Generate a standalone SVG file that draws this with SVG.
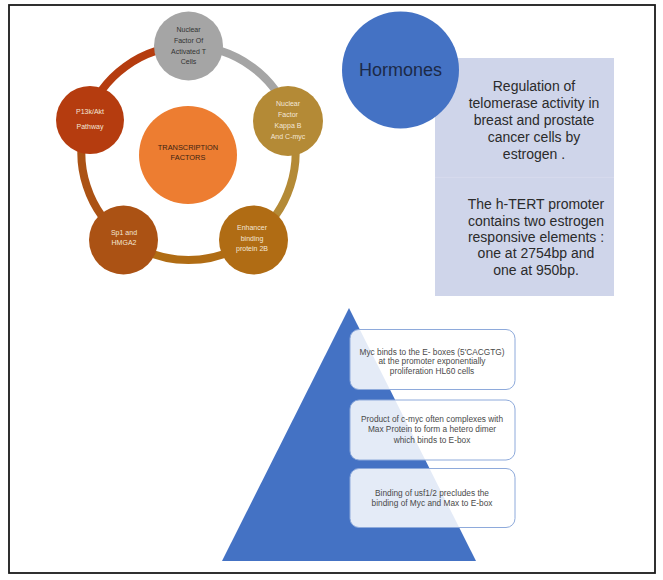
<svg xmlns="http://www.w3.org/2000/svg" width="663" height="580" viewBox="0 0 663 580">
<style>
.node text{font-family:"Liberation Sans",Arial,sans-serif;font-size:7px;text-anchor:middle}
.lt{fill:#f3e6d6}
.dk{fill:#333333}
.ring{fill:none;stroke-width:8}
.bx rect{fill:#ffffff;fill-opacity:0.86;stroke:#8eaadb;stroke-width:1}
.bx text{font-family:"Liberation Sans",Arial,sans-serif;font-size:8.3px;fill:#4a4a4a;text-anchor:middle}
.pt{font-family:"Liberation Sans",Arial,sans-serif;font-size:14px;fill:#2b2b2b;text-anchor:middle}
</style>
<rect x="0" y="0" width="663" height="580" fill="#ffffff"/>
<rect x="9" y="5" width="646" height="568" fill="none" stroke="#1a1a1a" stroke-width="1.8"/>

<g id="connectors">
<path class="ring" stroke="#a5a5a5" d="M188.5,46 A107,107 0 0 1 290.3,119.9"/>
<path class="ring" stroke="#b48a36" d="M290.3,119.9 A107,107 0 0 1 251.4,239.6"/>
<path class="ring" stroke="#b06c14" d="M251.4,239.6 A107,107 0 0 1 125.6,239.6"/>
<path class="ring" stroke="#ab5214" d="M125.6,239.6 A107,107 0 0 1 86.7,119.9"/>
<path class="ring" stroke="#b53c0f" d="M86.7,119.9 A107,107 0 0 1 188.5,46"/>
</g>

<g id="center" class="node">
<circle cx="188" cy="155" r="49" fill="#ed7d31"/>
<text class="dk" x="188" y="149.5" style="font-size:7.4px;fill:#3b2414">TRANSCRIPTION</text>
<text class="dk" x="188" y="159.5" style="font-size:7.4px;fill:#3b2414">FACTORS</text>
</g>

<g id="nfat" class="node">
<circle cx="188.5" cy="46" r="34.5" fill="#a5a5a5"/>
<text class="dk" x="188.5" y="31.5">Nuclear</text>
<text class="dk" x="188.5" y="42.5">Factor Of</text>
<text class="dk" x="188.5" y="53.5">Activated  T</text>
<text class="dk" x="188.5" y="64">Cells</text>
</g>

<g id="nfkb" class="node">
<circle cx="288" cy="121" r="35" fill="#b48a36"/>
<text class="lt" x="288" y="105.5">Nuclear</text>
<text class="lt" x="288" y="116.5">Factor</text>
<text class="lt" x="288" y="127.5">Kappa B</text>
<text class="lt" x="288" y="138.5">And C-myc</text>
</g>

<g id="ebp" class="node">
<circle cx="253.5" cy="240" r="34.5" fill="#b06c14"/>
<text class="lt" x="252" y="229.5">Enhancer</text>
<text class="lt" x="252" y="240.5">binding</text>
<text class="lt" x="252" y="251">protein 2B</text>
</g>

<g id="sp1" class="node">
<circle cx="123.5" cy="240" r="34.5" fill="#ab5214"/>
<text class="lt" x="124" y="234.5">Sp1  and</text>
<text class="lt" x="124" y="245">HMGA2</text>
</g>

<g id="pi3k" class="node">
<circle cx="90" cy="120" r="34" fill="#b53c0f"/>
<text class="lt" x="90" y="113.5">P13k/Akt</text>
<text class="lt" x="90" y="129">Pathway</text>
</g>

<g id="hormone-info">
<rect x="435" y="58" width="179" height="238" fill="#cfd5ea"/>
<line x1="435" y1="177.3" x2="614" y2="177.3" stroke="#d9ddef" stroke-width="0.8"/>
<text class="pt" x="534" y="91">Regulation of</text>
<text class="pt" x="534" y="108">telomerase activity in</text>
<text class="pt" x="534" y="125">breast and prostate</text>
<text class="pt" x="534" y="142">cancer cells by</text>
<text class="pt" x="534" y="159">estrogen .</text>
<text class="pt" x="536" y="209">The h-TERT promoter</text>
<text class="pt" x="536" y="226">contains two estrogen</text>
<text class="pt" x="536" y="242">responsive elements :</text>
<text class="pt" x="536" y="258">one at 2754bp  and</text>
<text class="pt" x="536" y="275">one at 950bp.</text>
</g>

<g id="hormones">
<circle cx="400.5" cy="70" r="58.5" fill="#4472c4"/>
<text x="400.5" y="76" font-family="'Liberation Sans',Arial,sans-serif" font-size="18" fill="#1c2a48" text-anchor="middle">Hormones</text>
</g>

<g id="pyramid">
<polygon points="349,308 222,561 476,561" fill="#4472c4"/>
</g>

<g id="box1" class="bx">
<rect x="350" y="329.5" width="165" height="60" rx="9"/>
<text x="432" y="354.5">Myc binds to the E- boxes (5'CACGTG)</text>
<text x="432" y="364">at the promoter exponentially</text>
<text x="432" y="374">proliferation  HL60 cells</text>
</g>

<g id="box2" class="bx">
<rect x="350" y="400" width="165" height="60" rx="9"/>
<text x="432" y="421.5">Product of c-myc often complexes with</text>
<text x="432" y="431.5">Max Protein to form a hetero dimer</text>
<text x="432" y="442.5">which binds to E-box</text>
</g>

<g id="box3" class="bx">
<rect x="350" y="468.5" width="165" height="59" rx="9"/>
<text x="432" y="495.5">Binding of usf1/2 precludes the</text>
<text x="432" y="505.5">binding of Myc and Max to E-box</text>
</g>
</svg>
